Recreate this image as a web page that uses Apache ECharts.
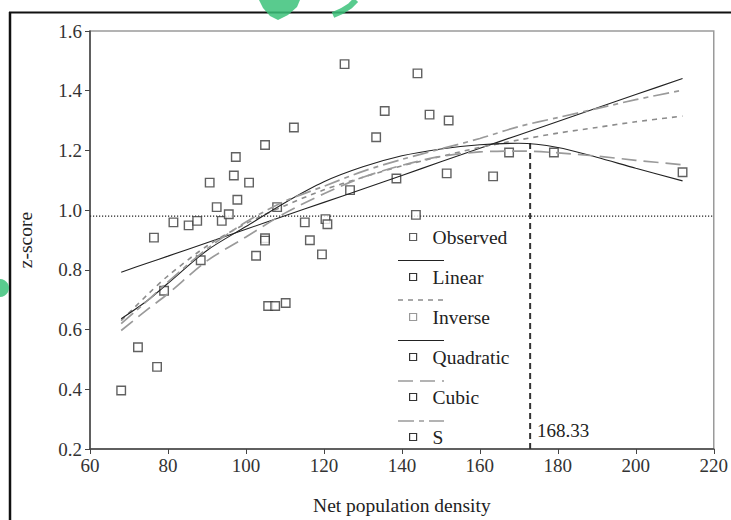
<!DOCTYPE html>
<html><head><meta charset="utf-8">
<script src="https://cdn.jsdelivr.net/npm/echarts@6/dist/echarts.min.js"></script>
<style>html,body{margin:0;padding:0;background:#fff}#c{width:731px;height:520px}</style>
</head><body><div id="c"></div>
<script>
// ---- data ----
const observedX = [68.0,72.3,77.2,79.0,76.4,81.4,85.3,87.5,88.4,90.7,92.5,93.8,95.6,96.9,97.4,97.8,100.8,102.6,104.9,104.9,104.9,105.7,107.5,108.0,110.2,112.3,115.1,116.4,119.5,120.4,120.9,125.3,126.7,133.4,135.6,138.6,143.6,144.0,147.1,152.0,151.5,163.4,167.5,179.0,212.0];
const observedY = [0.396,0.541,0.475,0.730,0.908,0.959,0.949,0.964,0.832,1.092,1.010,0.964,0.986,1.116,1.178,1.035,1.092,0.847,1.218,0.906,0.898,0.679,0.679,1.010,0.689,1.277,0.959,0.899,0.852,0.970,0.953,1.489,1.067,1.244,1.332,1.106,0.984,1.458,1.320,1.300,1.123,1.113,1.193,1.193,1.127];
const curveX     = [68,75,80,90,100,110,120,130,140,150,160,170,180,190,200,212];
const linearY    = [0.792,0.824,0.846,0.891,0.936,0.981,1.026,1.071,1.116,1.162,1.207,1.252,1.297,1.342,1.387,1.441];
const inverseY   = [0.630,0.720,0.780,0.880,0.955,1.015,1.068,1.110,1.148,1.180,1.210,1.235,1.258,1.277,1.296,1.315];
const quadraticY = [0.636,0.700,0.755,0.865,0.945,1.025,1.095,1.145,1.182,1.205,1.219,1.224,1.210,1.177,1.140,1.098];
const cubicY     = [0.597,0.670,0.720,0.830,0.910,0.990,1.055,1.110,1.150,1.180,1.195,1.198,1.192,1.181,1.167,1.152];
const sY         = [0.620,0.700,0.760,0.870,0.960,1.030,1.080,1.130,1.170,1.205,1.240,1.280,1.310,1.340,1.370,1.402];
const seriesNames = ['Observed','Linear','Inverse','Quadratic','Cubic','S'];
const refLineY = 0.98;
const peakX = 172.9, peakY = 1.225;
const peakLabel = '168.33';
const xTicks = [60,80,100,120,140,160,180,200,220];
const yTicks = ['0.2','0.4','0.6','0.8','1.0','1.2','1.4','1.6'];
const xName = 'Net population density';
const yName = 'z-score';

// ---- chart ----
const FONT = '"Liberation Serif","Times New Roman",serif';
const pairs = (xs, ys) => xs.map((x, i) => [x, ys[i]]);
const chart = echarts.init(document.getElementById('c'), null, {renderer: 'svg'});

function lineSeries(name, ys, color, width, type) {
  return {name, type: 'line', data: pairs(curveX, ys), smooth: 0.3, showSymbol: false, symbol: 'none',
    lineStyle: {color, width, type}, itemStyle: {color}, z: 3, silent: true};
}
const legendItem = (name, bc) => ({name, icon: 'rect', itemStyle: {color: '#fff', borderColor: bc, borderWidth: 1.2}});

chart.setOption({
  animation: false,
  backgroundColor: '#fff',
  grid: {left: 90, right: 16, top: 31, bottom: 64, show: true, borderColor: '#9a9a9a', borderWidth: 1.5},
  xAxis: {
    type: 'value', min: xTicks[0], max: xTicks[xTicks.length - 1], interval: xTicks[1] - xTicks[0],
    name: xName, nameLocation: 'middle', nameGap: 46,
    nameTextStyle: {fontFamily: FONT, fontSize: 19.5, color: '#222'},
    axisLine: {lineStyle: {color: '#444', width: 1.5}},
    axisTick: {show: true, length: 5, lineStyle: {color: '#444'}},
    axisLabel: {fontFamily: FONT, fontSize: 19, color: '#333', margin: 7},
    splitLine: {show: false}
  },
  yAxis: {
    type: 'value', min: +yTicks[0], max: +yTicks[yTicks.length - 1], interval: +yTicks[1] - +yTicks[0],
    name: yName, nameLocation: 'middle', nameGap: 55, nameRotate: 90,
    nameTextStyle: {fontFamily: FONT, fontSize: 19.5, color: '#222'},
    axisLine: {show: true, lineStyle: {color: '#444', width: 1.5}},
    axisTick: {show: true, length: 5, lineStyle: {color: '#444'}},
    axisLabel: {fontFamily: FONT, fontSize: 19, color: '#333', margin: 8, formatter: v => v.toFixed(1)},
    splitLine: {show: false}
  },
  legend: {
    orient: 'vertical', left: 404, top: 222, itemWidth: 7, itemHeight: 7, itemGap: 20,
    selectedMode: false,
    lineStyle: {width: 0, opacity: 0},
    textStyle: {fontFamily: FONT, fontSize: 19.5, color: '#222', padding: [0, 0, 0, 11], lineHeight: 18},
    data: [legendItem('Observed', '#333'), legendItem('Linear', '#333'), legendItem('Inverse', '#999'),
           legendItem('Quadratic', '#333'), legendItem('Cubic', '#333'), legendItem('S', '#333')]
  },
  series: [
    {name: seriesNames[0], type: 'scatter', data: pairs(observedX, observedY), symbol: 'rect', symbolSize: 8.5,
     itemStyle: {color: '#fff', borderColor: '#3a3a3a', borderWidth: 1.4}, z: 2, silent: true},
    lineSeries(seriesNames[1], linearY, '#222', 1.1, 'solid'),
    lineSeries(seriesNames[2], inverseY, '#8c8c8c', 1.6, [5, 5]),
    lineSeries(seriesNames[3], quadraticY, '#222', 1.1, 'solid'),
    lineSeries(seriesNames[4], cubicY, '#9a9a9a', 1.7, [15, 7]),
    lineSeries(seriesNames[5], sY, '#9a9a9a', 1.7, [16, 5, 5, 5]),
    {name: 'ref', type: 'line', data: [[xTicks[0], refLineY], [xTicks[xTicks.length - 1], refLineY]],
     showSymbol: false, symbol: 'none', lineStyle: {color: '#222', width: 1.2, type: [1.2, 1.8]}, z: 1, silent: true},
    {name: 'peak', type: 'line', data: [[peakX, +yTicks[0]], [peakX, peakY]],
     showSymbol: false, symbol: 'none', lineStyle: {color: '#333', width: 2, type: [6, 4]}, z: 1, silent: true}
  ],
  graphic: [
    // outer frame of the figure
    {type: 'line', shape: {x1: 9, y1: 12.5, x2: 731, y2: 12.5}, style: {stroke: '#111', lineWidth: 2}, silent: true},
    {type: 'line', shape: {x1: 10, y1: 12, x2: 10, y2: 520}, style: {stroke: '#111', lineWidth: 2.5}, silent: true},
    // legend line samples
    {type: 'line', shape: {x1: 398, y1: 260.5, x2: 444, y2: 260.5}, style: {stroke: '#222', lineWidth: 1.1}, silent: true},
    {type: 'line', shape: {x1: 398, y1: 300, x2: 444, y2: 300}, style: {stroke: '#8c8c8c', lineWidth: 1.6, lineDash: [5, 5]}, silent: true},
    {type: 'line', shape: {x1: 398, y1: 340.5, x2: 444, y2: 340.5}, style: {stroke: '#222', lineWidth: 1.1}, silent: true},
    {type: 'line', shape: {x1: 398, y1: 381, x2: 444, y2: 381}, style: {stroke: '#9a9a9a', lineWidth: 1.7, lineDash: [15, 7]}, silent: true},
    {type: 'line', shape: {x1: 398, y1: 421, x2: 444, y2: 421}, style: {stroke: '#9a9a9a', lineWidth: 1.7, lineDash: [16, 5, 5, 5]}, silent: true},
    // annotation
    {type: 'text', left: 537, top: 421, style: {text: peakLabel, font: '19px ' + FONT, fill: '#222'}, silent: true},
    // green watermark fragments
    {type: 'polygon', shape: {points: [[259,0],[300,0],[297,7],[288,15],[278,20],[270,16],[263,8]]}, style: {fill: '#3cc27a', opacity: 0.85}, silent: true},
    {type: 'polyline', shape: {points: [[333,15],[342,11],[350,6],[356,0]]}, style: {stroke: '#3cc27a', lineWidth: 6, opacity: 0.85}, silent: true},
    {type: 'circle', shape: {cx: 0, cy: 288, r: 9}, style: {fill: '#3cc27a', opacity: 0.85}, silent: true}
  ]
});
</script></body></html>
